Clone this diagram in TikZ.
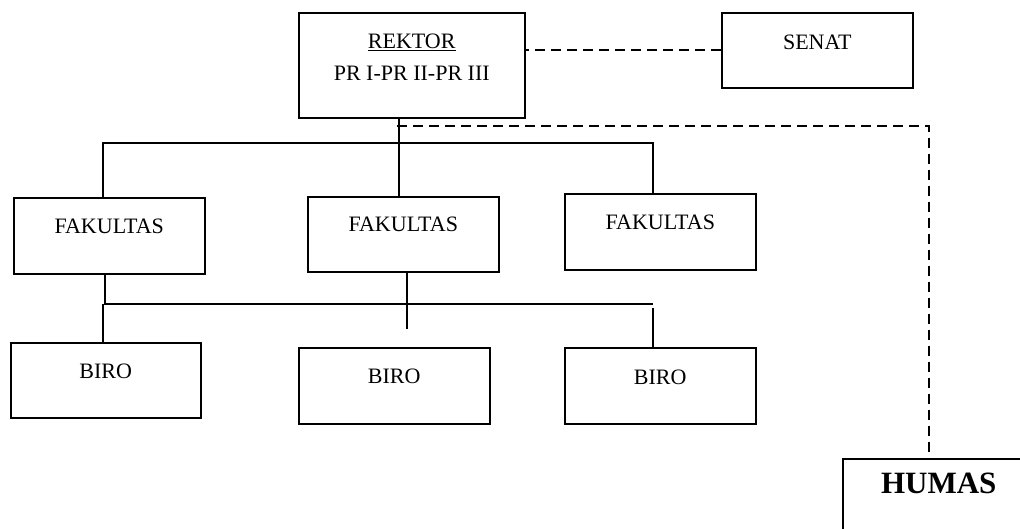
\documentclass[tikz,border=0pt]{standalone}
\usepackage{fontspec}
\setmainfont{Liberation Serif}
\begin{document}
\begin{tikzpicture}[x=1pt,y=1pt,
  box/.style={draw, line width=1.5pt, rectangle, inner xsep=0pt, inner ysep=0pt,
    anchor=north west, align=center, font=\fontsize{22}{32}\selectfont},
  conn/.style={line width=1.5pt},
  hdash/.style={line width=2pt, dash pattern=on 10pt off 6pt}
]
\useasboundingbox (0,0) rectangle (1020,-528);
% boxes
\node[box, minimum width=226, text height=68, text depth=37] (rek) at (298,-12)
  {\underline{REKTOR}\\PR I-PR II-PR III};
\node[box, minimum width=191, text height=37, text depth=38] (sen) at (721,-12) {SENAT};
\node[box, minimum width=191, text height=36, text depth=40] (f1) at (13,-197) {FAKULTAS};
\node[box, minimum width=191, text height=35, text depth=40] (f2) at (307,-196) {FAKULTAS};
\node[box, minimum width=191, text height=36, text depth=40] (f3) at (564,-193) {FAKULTAS};
\node[box, minimum width=190, text height=36, text depth=39] (bi1) at (10,-342) {BIRO};
\node[box, minimum width=191, text height=36, text depth=40] (bi2) at (298,-347) {BIRO};
\node[box, minimum width=191, text height=37, text depth=39] (bi3) at (564,-347) {BIRO};
\node[box, minimum width=192, text height=35, text depth=55,
  font=\fontsize{31}{36}\selectfont\bfseries] (hum) at (842,-458) {HUMAS};
% REKTOR - SENAT
\draw[hdash] (sen.west) -- (sen.west -| rek.east);
% REKTOR - HUMAS
\coordinate (hd) at (397,-126);
\coordinate (hc) at (929,-126);
\draw[hdash] (hd) -- (hc) -- (hc |- hum.north);
% REKTOR - FAKULTAS
\coordinate (rk) at (399,-117);
\draw[conn] (rk) -- (rk |- f2.north);
\coordinate (t1) at (103,-143);
\coordinate (t3) at (653,-143);
\draw[conn] (t1 |- f1.north) -- (t1) -- (t3) -- (t3 |- f3.north);
% FAKULTAS - BIRO
\coordinate (b1) at (105,-304);
\coordinate (b3) at (653,-304);
\draw[conn] (b1 |- f1.south) -- (b1) -- (b3);
\coordinate (b1d) at (103,-304);
\draw[conn] (b1d) -- (b1d |- bi1.north);
\coordinate (b2) at (407,-329);
\draw[conn] (b2 |- f2.south) -- (b2);
\coordinate (b3d) at (653,-308);
\draw[conn] (b3d) -- (b3d |- bi3.north);
\end{tikzpicture}
\end{document}
